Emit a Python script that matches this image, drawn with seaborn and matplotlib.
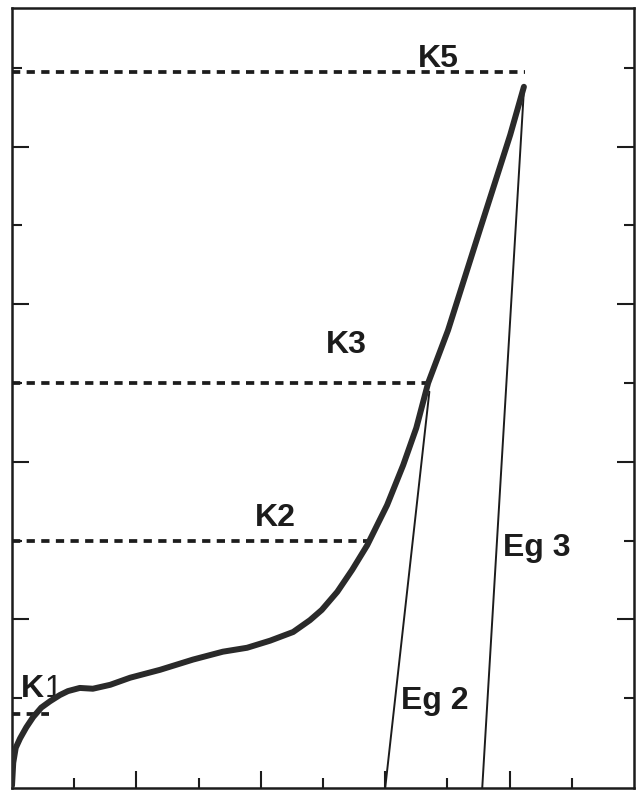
import matplotlib
matplotlib.use("Agg")
import matplotlib.pyplot as plt
from matplotlib.ticker import FixedLocator
import seaborn as sns
import pandas as pd

# Loading curve (thick line)
curve_x = [0.00, 0.02, 0.06, 0.13, 0.23, 0.34, 0.47, 0.61, 0.77, 0.90, 1.09, 1.30,
           1.58, 1.90, 2.38, 2.91, 3.39, 3.78, 4.15, 4.52, 4.79, 4.98, 5.23, 5.47,
           5.71, 6.03, 6.29, 6.50, 6.69, 7.01, 7.52, 8.01, 8.23]
curve_y = [-0.11, 0.18, 0.37, 0.49, 0.63, 0.76, 0.88, 0.96, 1.04, 1.09, 1.13, 1.12,
           1.17, 1.26, 1.36, 1.49, 1.59, 1.64, 1.73, 1.84, 1.99, 2.12, 2.35, 2.63,
           2.94, 3.45, 3.96, 4.43, 5.00, 5.67, 6.94, 8.15, 8.76]

# Horizontal reference levels: name, level, end of the dashed line
level_names = ["K1", "K2", "K3", "K5"]
level_values = [0.80, 3.00, 5.00, 8.95]
level_ends = [0.60, 5.72, 6.69, 8.25]

# Secant lines: name, base x, top point
secant_names = ["Eg 2", "Eg 3"]
secant_base_x = [6.00, 7.56]
secant_top_x = [6.71, 8.23]
secant_top_y = [4.89, 8.72]

tick_positions = [1, 2, 3, 4, 5, 6, 7, 8, 9]

X_MIN, X_MAX = 0, 10
Y_MIN, Y_MAX = -0.14, 9.76

sns.set_style("white")
plt.rcParams["font.family"] = ["Liberation Sans", "DejaVu Sans"]

fig = plt.figure(figsize=(6.36, 7.94), dpi=100)
ax = fig.add_axes([12 / 636, 6 / 794, 622 / 636, 780 / 794])

ink = "#1c1c1c"
df = pd.DataFrame({"x": curve_x, "y": curve_y})
sns.lineplot(data=df, x="x", y="y", ax=ax, color="#2a2a2a", lw=4.3,
             sort=False, estimator=None, solid_capstyle="round", zorder=4)

for val, end in zip(level_values, level_ends):
    ax.plot([X_MIN, end], [val, val], color=ink, lw=2.7,
            linestyle=(0, (2.2, 1.7)), zorder=3)

for bx, tx, ty in zip(secant_base_x, secant_top_x, secant_top_y):
    ax.plot([bx, tx], [Y_MIN, ty], color=ink, lw=1.4, zorder=3)

label_kw = dict(fontsize=23, fontweight="bold", color=ink, ha="center", va="center")
ax.text(6.86, 9.11, "K5", **label_kw)
ax.text(5.37, 5.48, "K3", **label_kw)
ax.text(4.23, 3.29, "K2", **label_kw)
ax.text(8.44, 2.91, "Eg 3", **label_kw)
ax.text(6.80, 0.96, "Eg 2", **label_kw)
ax.text(0.15, 1.02, "K", fontsize=23, fontweight="bold", color=ink,
        ha="left", va="baseline")
ax.text(0.52, 1.02, "1", fontsize=22, color=ink, ha="left", va="baseline")

ax.set_xlim(X_MIN, X_MAX)
ax.set_ylim(Y_MIN, Y_MAX)
ax.set_xlabel("")
ax.set_ylabel("")

for side in ["left", "right", "top", "bottom"]:
    ax.spines[side].set_visible(True)
    ax.spines[side].set_color(ink)
    ax.spines[side].set_linewidth(1.8)

ax.xaxis.set_major_locator(FixedLocator([t for t in tick_positions if t % 2 == 0]))
ax.xaxis.set_minor_locator(FixedLocator([t for t in tick_positions if t % 2 == 1]))
ax.yaxis.set_major_locator(FixedLocator([t for t in tick_positions if t % 2 == 0]))
ax.yaxis.set_minor_locator(FixedLocator([t for t in tick_positions if t % 2 == 1]))
ax.tick_params(which="both", direction="in", color=ink, width=1.5,
               bottom=True, top=False, left=True, right=True,
               labelbottom=False, labelleft=False)
ax.tick_params(which="major", length=12)
ax.tick_params(which="minor", length=7)

fig.savefig("out.png", dpi=100, facecolor="white")
